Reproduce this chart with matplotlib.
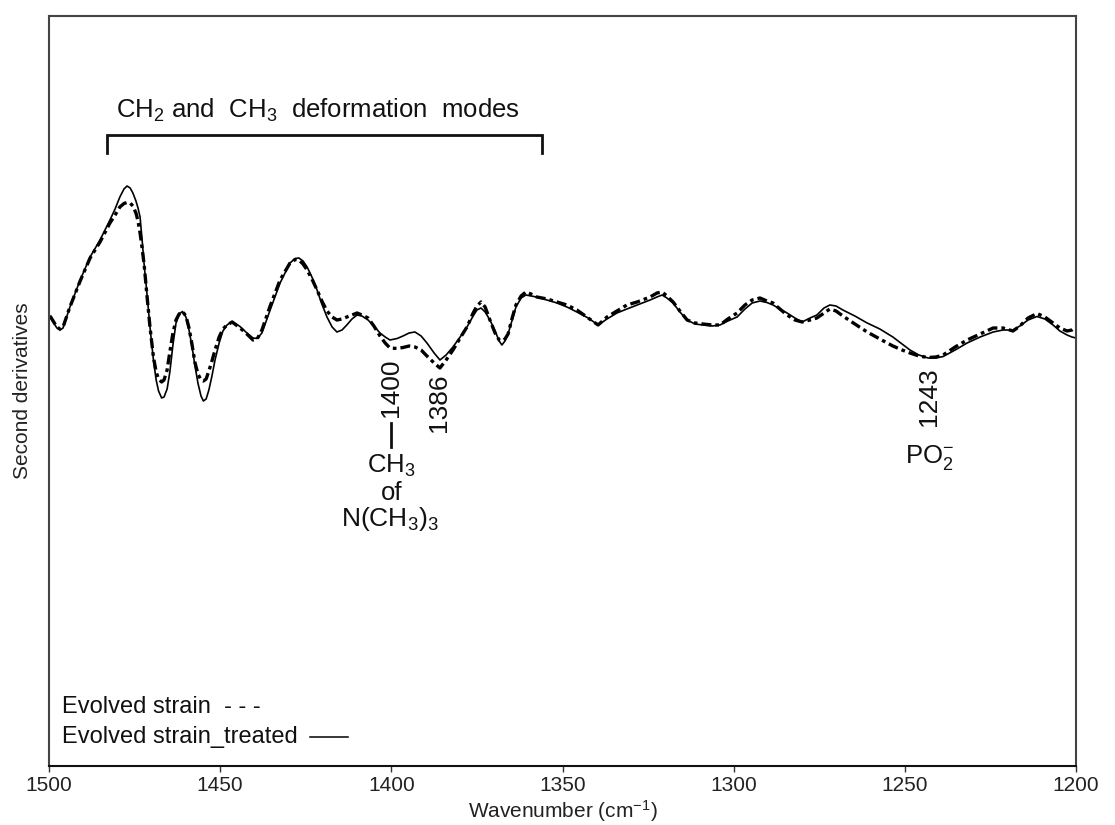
import matplotlib
matplotlib.use("Agg")
import matplotlib.pyplot as plt
from matplotlib.lines import Line2D

plt.rcParams['font.family'] = ['Liberation Sans', 'DejaVu Sans']
plt.rcParams['mathtext.fontset'] = 'custom'
plt.rcParams['mathtext.rm'] = 'Liberation Sans'
plt.rcParams['mathtext.it'] = 'Liberation Sans:italic'
plt.rcParams['mathtext.bf'] = 'Liberation Sans:bold'

# ---------------- data ----------------
wavenumber = [
    1499.7, 1498.8, 1497.7, 1496.8, 1495.9, 1493.9, 1490.9, 1488.0, 1485.1, 1482.2,
    1480.7, 1479.3, 1478.1, 1477.2, 1476.3, 1475.5, 1474.6, 1474.0, 1473.4, 1472.8,
    1472.2, 1471.4, 1470.5, 1469.5, 1468.7, 1468.0, 1467.1, 1466.4, 1465.5, 1464.7,
    1463.8, 1462.9, 1462.0, 1461.0, 1460.0, 1459.1, 1458.2, 1457.4, 1456.5, 1455.6,
    1454.9, 1454.1, 1453.3, 1452.4, 1451.5, 1450.3, 1449.2, 1448.0, 1446.5, 1444.2,
    1442.2, 1440.4, 1439.2, 1437.8, 1435.4, 1432.5, 1429.6, 1428.1, 1427.0, 1425.8,
    1424.6, 1423.2, 1421.7, 1420.3, 1418.8, 1417.3, 1415.9, 1414.4, 1413.0, 1411.5,
    1410.0, 1408.6, 1406.8, 1405.1, 1403.3, 1401.8, 1400.4, 1398.3, 1396.6, 1394.8,
    1393.1, 1391.3, 1389.6, 1387.5, 1385.8, 1384.0, 1382.0, 1379.9, 1377.9, 1376.1,
    1375.0, 1373.8, 1372.6, 1371.2, 1369.7, 1368.5, 1367.7, 1366.8, 1365.9, 1364.7,
    1363.6, 1362.1, 1360.7, 1359.2, 1357.5, 1354.5, 1351.6, 1348.7, 1345.8, 1342.5,
    1339.6, 1337.0, 1334.1, 1331.2, 1328.2, 1324.4, 1322.4, 1320.9, 1319.5, 1317.7,
    1315.7, 1313.6, 1311.3, 1309.0, 1306.3, 1304.0, 1301.7, 1299.0, 1296.7, 1294.6,
    1292.3, 1290.3, 1288.5, 1286.5, 1284.4, 1282.1, 1280.0, 1277.7, 1275.7, 1273.6,
    1271.9, 1270.1, 1268.1, 1264.6, 1261.0, 1257.3, 1253.5, 1250.8, 1248.5, 1245.9,
    1243.2, 1240.9, 1238.8, 1235.3, 1231.8, 1228.0, 1224.2, 1221.3, 1218.4, 1216.4,
    1214.0, 1211.4, 1209.1, 1206.7, 1204.7, 1202.6, 1201.2, 1200.0]

treated = [
    1.4, 0.8, 0.2, 0.0, 0.2, 2.3, 5.0, 7.3, 9.0, 11.0,
    12.1, 13.3, 14.1, 14.4, 14.2, 13.7, 12.9, 12.2, 11.3, 9.0,
    6.5, 3.7, 0.3, -3.0, -5.0, -6.1, -6.8, -6.7, -5.9, -4.2,
    -1.5, 0.7, 1.6, 1.85, 1.3, 0.0, -1.7, -3.5, -5.3, -6.6,
    -7.1, -6.9, -6.0, -4.6, -3.0, -1.3, -0.1, 0.5, 0.85, 0.35,
    -0.3, -0.8, -0.85, -0.3, 2.0, 4.7, 6.7, 7.15, 7.2, 6.9,
    6.3, 5.3, 4.0, 2.6, 1.3, 0.3, -0.2, 0.0, 0.5, 1.1,
    1.5, 1.4, 1.0, 0.4, -0.3, -0.7, -1.0, -0.85, -0.6, -0.3,
    -0.2, -0.6, -1.3, -2.3, -3.0, -2.5, -1.7, -0.7, 0.3, 1.4,
    2.0, 2.2, 1.8, 1.0, -0.1, -1.1, -1.5, -1.1, -0.4, 1.0,
    2.3, 3.2, 3.5, 3.4, 3.3, 3.0, 2.7, 2.3, 1.8, 1.2,
    0.5, 1.1, 1.7, 2.1, 2.5, 3.0, 3.3, 3.5, 3.2, 2.7,
    1.8, 1.0, 0.6, 0.5, 0.4, 0.5, 0.9, 1.3, 2.1, 2.7,
    2.9, 2.75, 2.5, 2.1, 1.7, 1.2, 0.8, 1.2, 1.5, 2.2,
    2.5, 2.4, 2.0, 1.4, 0.7, 0.1, -0.7, -1.4, -2.0, -2.5,
    -2.8, -2.8, -2.65, -2.0, -1.3, -0.7, -0.2, 0.0, 0.0, 0.4,
    1.0, 1.35, 1.1, 0.5, -0.1, -0.5, -0.7, -0.8]

evolved = [
    1.4, 0.9, 0.3, 0.1, 0.3, 2.3, 4.9, 7.2, 8.8, 10.7,
    11.5, 12.3, 12.65, 12.75, 12.7, 12.4, 11.7, 10.9, 9.7, 8.2,
    6.5, 3.5, 0.3, -2.7, -4.2, -4.9, -5.2, -5.0, -4.0, -2.2,
    -0.3, 1.0, 1.6, 1.85, 1.4, 0.2, -1.5, -3.2, -4.4, -5.0,
    -5.1, -4.9, -4.1, -3.1, -2.0, -0.7, 0.1, 0.5, 0.8, 0.2,
    -0.4, -1.0, -0.9, 0.0, 2.4, 5.0, 6.7, 7.05, 7.0, 6.6,
    6.0, 5.1, 4.0, 2.9, 1.9, 1.3, 1.0, 1.1, 1.3, 1.5,
    1.7, 1.5, 1.2, 0.4, -0.6, -1.3, -1.8, -1.85, -1.75, -1.6,
    -1.7, -2.0, -2.6, -3.3, -3.8, -3.0, -2.0, -0.8, 0.3, 1.7,
    2.4, 2.8, 2.3, 1.0, -0.3, -1.0, -1.1, -0.9, -0.4, 1.2,
    2.5, 3.4, 3.8, 3.6, 3.3, 3.1, 2.8, 2.5, 2.0, 1.2,
    0.5, 1.3, 1.9, 2.5, 2.8, 3.3, 3.7, 3.8, 3.4, 2.8,
    1.9, 1.0, 0.7, 0.6, 0.5, 0.5, 1.1, 1.7, 2.5, 3.0,
    3.2, 2.9, 2.7, 2.1, 1.5, 1.0, 0.8, 1.0, 1.2, 1.7,
    2.1, 1.9, 1.4, 0.6, -0.2, -0.9, -1.6, -2.0, -2.3, -2.6,
    -2.75, -2.7, -2.5, -1.7, -1.0, -0.4, 0.2, 0.2, -0.1, 0.4,
    1.2, 1.65, 1.3, 0.7, 0.2, -0.1, 0.0, 0.3]

series_labels = ["Evolved strain", "Evolved strain_treated"]
x_ticks = [1500, 1450, 1400, 1350, 1300, 1250, 1200]
bracket_range = [1483.1, 1356.1]
peak_labels = ["1400", "1386", "1243"]
peak_positions = [1400, 1386, 1243]

# ---------------- figure ----------------
fig = plt.figure(figsize=(11.15, 8.25), dpi=100)
ax = fig.add_axes([0.04395, 0.07152, 0.92107, 0.90909])

ax.plot(wavenumber, treated, color='black', lw=1.2, solid_joinstyle='round')
ax.plot(wavenumber, evolved, color='black', lw=2.4,
        linestyle=(0, (3.0, 1.2, 1.1, 1.2)))

ax.set_xlim(1500, 1200)
ax.set_ylim(-43.6, 31.4)
ax.set_xticks(x_ticks)
ax.set_xticklabels([str(t) for t in x_ticks])
ax.set_yticks([])
ax.tick_params(axis='x', direction='out', length=4, width=1, colors='#333333',
               labelsize=15, labelcolor='#222222', pad=3)
for sp in ax.spines.values():
    sp.set_color('#444444')
    sp.set_linewidth(1.5)
ax.spines['bottom'].set_color('#111111')

ax.set_xlabel("Wavenumber (cm$^{-1}$)", fontsize=15, color='#222222', va='top')
ax.xaxis.set_label_coords(0.5, -0.0425)
ax.set_ylabel("Second derivatives", fontsize=15, color='#222222')
ax.yaxis.set_label_coords(-0.017, 0.5)

ANN = 18.5
TXT = '#111111'
# bracket over CH2 / CH3 modes
bx0, bx1 = bracket_range
ax.plot([bx0, bx0, bx1, bx1], [17.7, 19.5, 19.5, 17.7], color=TXT, lw=2.0,
        solid_joinstyle='miter')
ax.text(1421.4, 21.2, "CH$_2$ and  CH$_3$  deformation  modes",
        ha='center', va='baseline', fontsize=ANN, color=TXT)

# peak labels
ax.text(peak_positions[0], -5.8, peak_labels[0], rotation=90, ha='center', va='center',
        fontsize=19, color=TXT)
ax.plot([peak_positions[0], peak_positions[0]], [-9.3, -11.7], color=TXT, lw=2.0)
ax.text(peak_positions[0], -14.3, "CH$_3$", ha='center', va='baseline', fontsize=ANN,
        color=TXT)
ax.text(peak_positions[0], -17.0, "of", ha='center', va='baseline', fontsize=ANN,
        color=TXT)
ax.text(peak_positions[0] + 0.5, -19.6, "N(CH$_3$)$_3$", ha='center', va='baseline',
        fontsize=ANN + 0.5, color=TXT)
ax.text(peak_positions[1], -7.3, peak_labels[1], rotation=90, ha='center', va='center',
        fontsize=19, color=TXT)
ax.text(peak_positions[2], -6.7, peak_labels[2], rotation=90, ha='center', va='center',
        fontsize=19, color=TXT)
ax.text(1249.9, -13.3, "PO$_2^{-}$", ha='left', va='baseline', fontsize=ANN, color=TXT)

# legend (label text followed by a line sample), as in the original
ax.text(0.0124, 0.0702, series_labels[0] + "  - - -", transform=ax.transAxes,
        ha='left', va='baseline', fontsize=17, color=TXT)
ax.text(0.0124, 0.0302, series_labels[1], transform=ax.transAxes,
        ha='left', va='baseline', fontsize=17, color=TXT)
ax.add_line(Line2D([0.254, 0.291], [0.0393, 0.0393], transform=ax.transAxes,
                   color='black', lw=1.1))

fig.savefig("out.png", dpi=100)
